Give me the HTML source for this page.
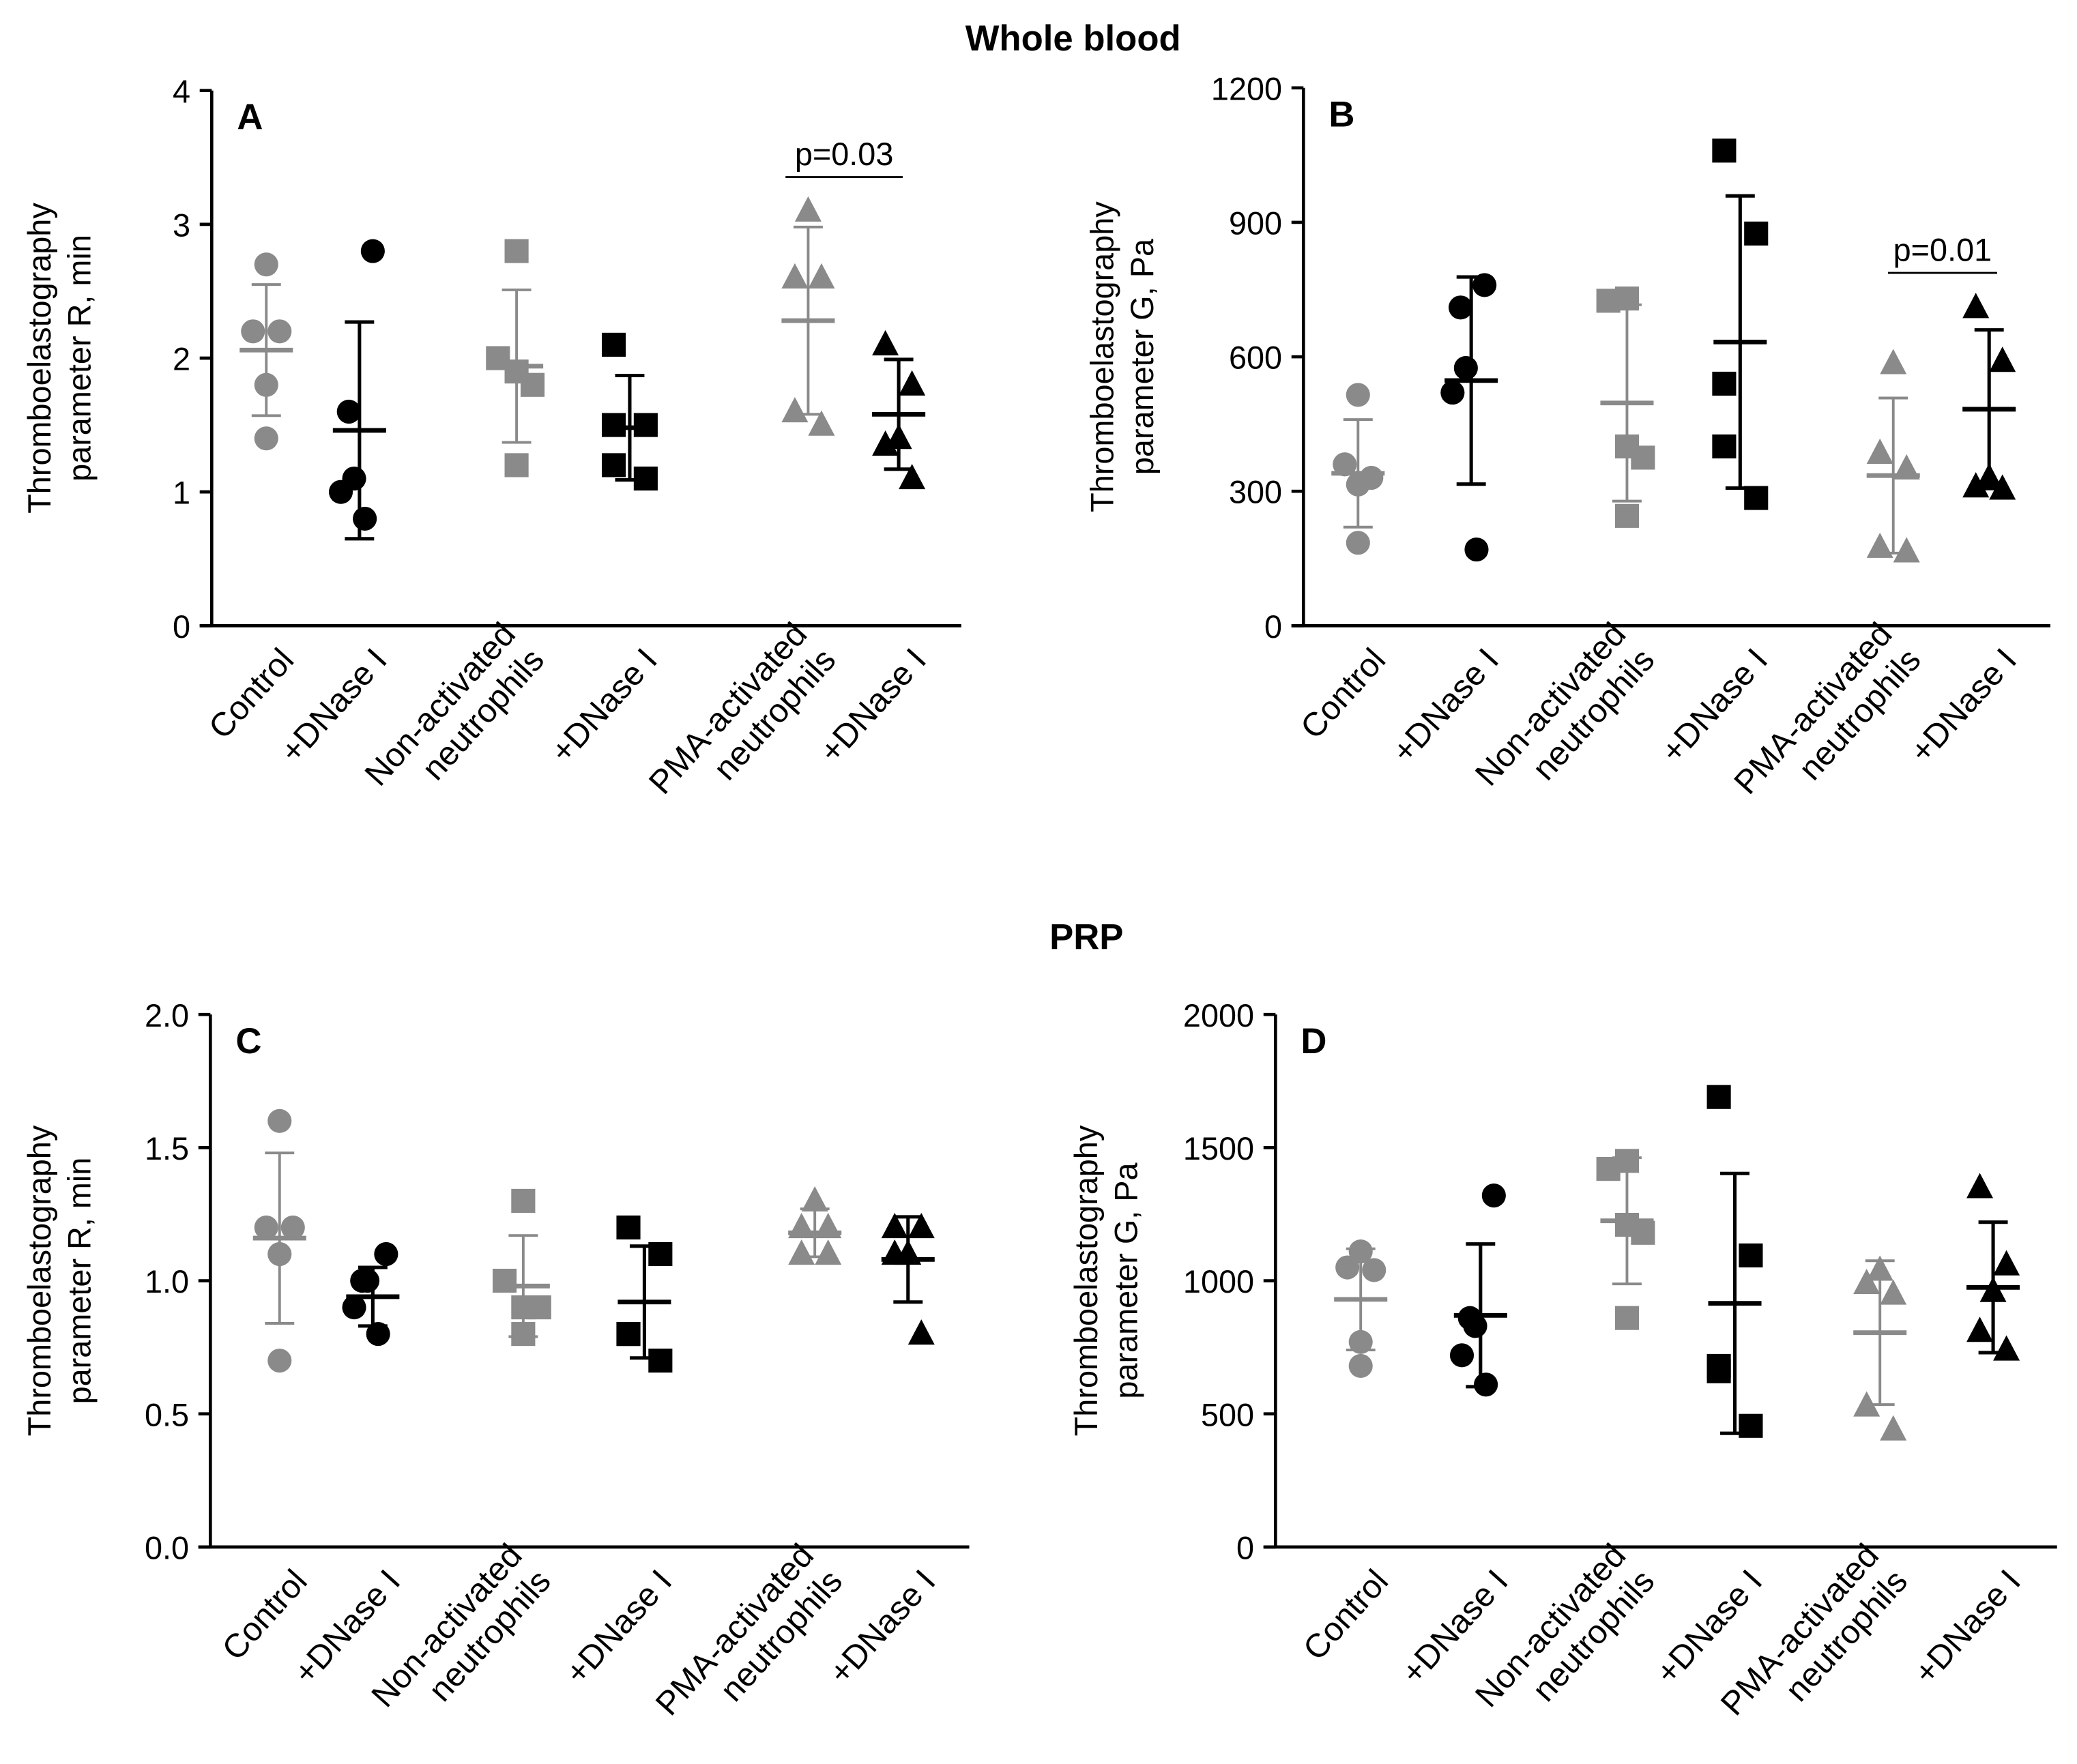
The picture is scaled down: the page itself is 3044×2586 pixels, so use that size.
<!DOCTYPE html>
<html><head><meta charset="utf-8"><style>
html,body{margin:0;padding:0;background:#fff}
svg{display:block;font-family:"Liberation Sans",Arial,sans-serif}
</style></head><body>
<svg id="fig" width="3044" height="2586" viewBox="0 0 1560 1325" preserveAspectRatio="none" xmlns="http://www.w3.org/2000/svg">
<text x="806" y="38" font-size="27" font-weight="bold" text-anchor="middle">Whole blood</text>
<text x="816" y="713" font-size="27" font-weight="bold" text-anchor="middle">PRP</text>
</svg>
<script>
// ---- data ----
const categories = ["Control","+DNase I","Non-activated\nneutrophils","+DNase I","PMA-activated\nneutrophils","+DNase I"];
const A_values = [[2.7,2.2,2.2,1.8,1.4],[2.8,1.6,1.1,1.0,0.8],[2.8,2.0,1.9,1.8,1.2],[2.1,1.5,1.5,1.2,1.1],[3.1,2.6,2.6,1.6,1.5],[2.1,1.8,1.4,1.35,1.1]];
const A_means = [2.06,1.46,1.94,1.48,2.28,1.58];
const A_sd = [0.49,0.81,0.57,0.39,0.70,0.41];
const B_values = [[515,360,330,315,185],[760,710,575,520,170],[730,725,400,375,245],[1060,875,540,400,285],[585,385,350,175,165],[710,590,330,310,305]];
const B_means = [340,547,497,633,335,483];
const B_sd = [120,231,219,326,173,177];
const C_values = [[1.6,1.2,1.2,1.1,0.7],[1.1,1.0,1.0,0.9,0.8],[1.3,1.0,0.9,0.9,0.8],[1.2,1.1,0.8,0.8,0.7],[1.3,1.2,1.2,1.1,1.1],[1.2,1.2,1.1,1.1,0.8]];
const C_means = [1.16,0.94,0.98,0.92,1.18,1.08];
const C_sd = [0.32,0.11,0.19,0.21,0.09,0.16];
const D_values = [[1110,1050,1040,770,680],[1320,860,830,720,610],[1450,1420,1210,1180,860],[1690,1095,680,660,455],[1040,990,950,530,440],[1350,1060,960,810,740]];
const D_means = [930,870,1225,915,805,975];
const D_sd = [190,268,237,488,270,245];
const A_ticks = ["0","1","2","3","4"];
const B_ticks = ["0","300","600","900","1200"];
const C_ticks = ["0.0","0.5","1.0","1.5","2.0"];
const D_ticks = ["0","500","1000","1500","2000"];

const NS="http://www.w3.org/2000/svg";
const svg=document.getElementById('fig');
function el(t,a,p){const e=document.createElementNS(NS,t);for(const k in a)e.setAttribute(k,a[k]);(p||svg).appendChild(e);return e;}
const jit=[[0,-10,10,0,0],[10,-8,-4,-14,4],[0,-14,0,12,0],[-12,12,-12,-12,12],[0,-10,10,-10,10],[-10,10,0,-10,10]];
const shapes=["c","c","s","s","t","t"];
const cols=["#8a8a8a","#000","#8a8a8a","#000","#8a8a8a","#000"];

function panel(p){
  const g=el('g',{});
  
  
  const y=v=>p.y0-(v-p.min)/(p.max-p.min)*(p.y0-p.y1);
  const x=i=>p.xs[i];
  const ax=el('line',{x1:p.ax,y1:p.y1,x2:p.ax,y2:p.y0,stroke:'#000','stroke-width':2.4},g);
  
  const xa=el('line',{x1:p.ax-9,y1:p.y0,x2:p.xend,y2:p.y0,stroke:'#000','stroke-width':2.4},g);
  
  p.ticks.forEach((t,i)=>{
    const v=p.min+i*(p.max-p.min)/(p.ticks.length-1);
    el('line',{x1:p.ax-9,y1:y(v),x2:p.ax,y2:y(v),stroke:'#000','stroke-width':2.4},g);
    const tx=el('text',{x:p.ax-16,y:y(v)+9,'font-size':24,'text-anchor':'end'},g);
    tx.textContent=t;
    
  });
  const yl=el('text',{transform:`translate(${p.ylx},${(p.y0+p.y1)/2}) rotate(-90)`,'font-size':24,'text-anchor':'middle'},g);
  
  const t1=el('tspan',{x:0,y:0},yl);t1.textContent='Thromboelastography';
  const t2=el('tspan',{x:0,y:30},yl);t2.textContent=p.ylab;
  const lt=el('text',{x:p.ax+19,y:p.y1+29,'font-size':27,'font-weight':'bold'},g);
  lt.textContent=p.id;
  categories.forEach((c,i)=>{
    const lines=c.split('\n');
    const tx=el('text',{transform:`translate(${x(i)+10},${p.y0+16}) rotate(-48)`,'font-size':25,'text-anchor':'end'},g);
    
    lines.forEach((l,j)=>{const s=el('tspan',{x:0,y:(j-(lines.length-1))*29+16},tx);s.textContent=l;});
  });
  p.values.forEach((arr,i)=>{
    const col=cols[i];
    arr.forEach((v,k)=>{
      const cx=x(i)+jit[i][k],cy=y(v);let m;
      if(shapes[i]=='c')m=el('circle',{cx:cx,cy:cy,r:9,fill:col},g);
      else if(shapes[i]=='s')m=el('rect',{x:cx-9,y:cy-9,width:18,height:18,fill:col},g);
      else m=el('polygon',{points:`${cx},${cy-11} ${cx+10},${cy+8} ${cx-10},${cy+8}`,fill:col},g);
      
    });
    const mn=p.means[i],sd=p.sd[i],w=i%2?2.6:2;
    const eb=el('g',{stroke:col,'stroke-width':w},g);
    
    el('line',{x1:x(i),y1:y(mn+sd),x2:x(i),y2:y(mn-sd)},eb);
    el('line',{x1:x(i)-11,y1:y(mn+sd),x2:x(i)+11,y2:y(mn+sd)},eb);
    el('line',{x1:x(i)-11,y1:y(mn-sd),x2:x(i)+11,y2:y(mn-sd)},eb);
    const ml=el('line',{x1:x(i)-20,y1:y(mn),x2:x(i)+20,y2:y(mn),stroke:col,'stroke-width':3.5},g);
    
  });
  if(p.sig){
    const s=el('line',{x1:p.sig.x1,y1:p.sig.y,x2:p.sig.x2,y2:p.sig.y,stroke:'#000','stroke-width':1.5},g);
    
    const st=el('text',{x:(p.sig.x1+p.sig.x2)/2,y:p.sig.y-9,'font-size':24,'text-anchor':'middle'},g);
    st.textContent=p.sig.t;
  }
}
panel({id:'A',ax:159,y0:470,y1:68,min:0,max:4,ticks:A_ticks,xs:[200,270,388,473,607,675],xend:722,values:A_values,means:A_means,sd:A_sd,ylx:38,ylab:'parameter R, min',sig:{x1:590,x2:678,y:133,t:'p=0.03'}});
panel({id:'B',ax:979,y0:470,y1:66,min:0,max:1200,ticks:B_ticks,xs:[1020,1105,1222,1307,1422,1494],xend:1540,values:B_values,means:B_means,sd:B_sd,ylx:836,ylab:'parameter G, Pa',sig:{x1:1418,x2:1500,y:205,t:'p=0.01'}});
panel({id:'C',ax:158,y0:1162,y1:762,min:0,max:2,ticks:C_ticks,xs:[210,280,393,484,612,682],xend:728,values:C_values,means:C_means,sd:C_sd,ylx:38,ylab:'parameter R, min'});
panel({id:'D',ax:958,y0:1162,y1:762,min:0,max:2000,ticks:D_ticks,xs:[1022,1112,1222,1303,1412,1497],xend:1545,values:D_values,means:D_means,sd:D_sd,ylx:824,ylab:'parameter G, Pa'});
</script>
</body></html>
